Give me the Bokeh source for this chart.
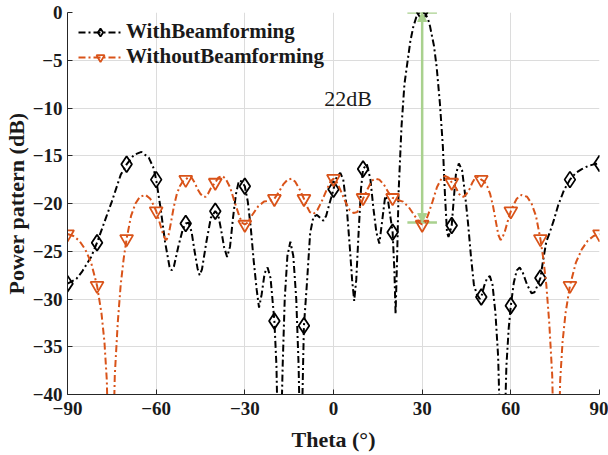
from bokeh.plotting import figure
from bokeh.models import Range1d, FixedTicker, Arrow, NormalHead, Label
from bokeh.embed import file_html
from bokeh.resources import INLINE

# ---------------- data ----------------
x_ticks = [-90, -60, -30, 0, 30, 60, 90]
y_ticks = [-40, -35, -30, -25, -20, -15, -10, -5, 0]

marker_theta = [-90, -80, -70, -60, -50, -40, -30, -20, -10, 0,
                10, 20, 30, 40, 50, 60, 70, 80, 90]
marker_with = [-28.4, -24.1, -15.9, -17.5, -22.1, -20.8, -18.2, -32.3, -32.8, -18.5,
               -16.4, -23.0, 0.0, -22.3, -29.8, -30.7, -27.8, -17.5, -15.8]
marker_without = [-23.2, -28.6, -23.7, -20.8, -17.5, -17.8, -22.2, -19.5, -19.5, -17.4,
                  -19.4, -19.4, -22.2, -17.8, -17.5, -20.8, -23.7, -28.6, -23.2]

with_theta = [-90, -87, -85, -82, -80, -77, -75, -72, -70, -67.5, -65, -62.5, -61, -60,
              -58.5, -57, -55.5, -54.8, -54, -52.5, -51, -50, -49, -48, -47, -46, -45.3,
              -44.5, -43, -41.5, -40, -39, -38, -37, -36, -35, -34, -33, -32, -31, -30,
              -29, -28, -27, -26, -25.2, -24.3, -23.3, -22.3, -21.3, -20, -19.3, -18.8,
              -17.8, -17.2, -16.5, -15.6, -14.6, -13.6, -12.6, -11.8, -11.3, -10.8, -10.3,
              -10, -9, -7.9, -6.8, -5.6, -4.5, -3.4, -2.5, -1.7, -0.8, 0, 1, 2.3, 3.3,
              4.5, 5.5, 6.3, 7, 7.7, 8.5, 9.3, 10, 11.3, 12.5, 13.5, 14.5, 15.5, 16.4,
              17.5, 18.5, 19.3, 20, 20.6, 21, 21.5, 22, 23, 24, 24.8, 26, 27, 28, 29, 30,
              31, 32, 32.7, 34, 34.9, 36, 37, 37.7, 38.4, 38.9, 39.4, 40, 40.7, 41.4,
              42.4, 43.5, 44.5, 45.5, 46.5, 47.5, 48.5, 49.5, 50, 51, 52, 52.9, 53.8,
              54.8, 55.7, 56.5, 57.8, 58.5, 59.3, 60, 61, 62, 63, 64, 65.5, 67, 68, 69,
              70, 71, 72, 73.2, 74.5, 76, 78, 80, 82, 84, 86, 88, 90]
with_db = [-28.4, -27.9, -27.1, -25.6, -24.1, -21.5, -19.8, -17.0, -15.9, -14.9, -14.6,
           -15.2, -16.2, -17.5, -20.5, -24.0, -26.6, -27.0, -26.6, -24.5, -22.7, -22.1,
           -22.0, -23.0, -25.0, -26.8, -27.5, -26.9, -24.0, -21.5, -20.8, -21.2, -22.8,
           -24.6, -25.6, -24.5, -21.5, -19.0, -17.6, -17.7, -18.2, -19.8, -22.5, -26.0,
           -29.0, -30.9, -29.5, -27.3, -26.7, -27.8, -32.3, -37.0, -45.0, -45.0, -37.0,
           -30.0, -25.5, -24.0, -25.5, -30.0, -37.0, -45.0, -45.0, -37.0, -32.8, -28.4,
           -23.1, -21.4, -21.2, -21.5, -21.8, -21.3, -20.4, -19.4, -18.5, -17.3, -16.8,
           -17.5, -20.5, -24.5, -28.0, -30.2, -28.0, -23.0, -18.5, -16.4, -15.9, -17.5,
           -20.5, -23.0, -24.2, -22.0, -19.2, -19.8, -21.5, -23.0, -27.0, -31.6, -26.0,
           -19.0, -12.0, -7.5, -5.7, -3.0, -1.5, -0.5, -0.05, 0.0, -0.1, -0.7, -1.5,
           -3.5, -5.7, -9.5, -14.0, -19.0, -23.0, -23.5, -23.0, -22.3, -19.5, -17.0,
           -15.8, -16.5, -19.0, -22.0, -25.5, -28.5, -29.5, -30.0, -29.8, -28.6, -27.8,
           -27.6, -28.5, -31.5, -36.0, -45.0, -45.0, -37.0, -33.0, -30.7, -28.3, -27.0,
           -26.7, -27.2, -28.5, -29.4, -29.3, -28.6, -27.8, -25.8, -24.0, -23.0, -21.8,
           -20.2, -18.6, -17.5, -16.8, -16.4, -16.1, -15.9, -15.8]

without_theta = [-90, -88, -86, -84, -82, -80, -78.5, -77.5, -76.7, -76.2, -74.5, -74, -73,
                 -72, -71, -70, -68.5, -67, -65.5, -63.6, -62, -61, -60, -59, -58, -57,
                 -56.5, -55.8, -55, -54, -53, -52, -51, -50, -49, -48, -47, -46, -45, -44,
                 -43.3, -42.5, -41.5, -40, -39, -37.7, -36.5, -35, -33.5, -32, -31, -30,
                 -29, -27.5, -25.5, -23.5, -21.5, -20, -18.5, -17, -15.5, -14.2, -13,
                 -11.5, -10, -9, -8, -6.8, -5.5, -4, -2.5, -1, 0,
                 1, 2.5, 4, 5.5, 6.8, 8, 9, 10, 11.5, 13, 14.2, 15.5, 17, 18.5, 20, 21.5,
                 23.5, 25.5, 27.5, 29, 30, 31, 32, 33.5, 35, 36.5, 37.7, 39, 40, 41.5, 42.5,
                 43.3, 44, 45, 46, 47, 48, 49, 50, 51, 52, 53, 54, 55, 55.8, 56.5, 57, 58,
                 59, 60, 61, 62, 63.6, 65.5, 67, 68.5, 70, 71, 72, 73, 74, 74.5, 76.2,
                 76.7, 77.5, 78.5, 80, 82, 84, 86, 88, 90]
without_db = [-23.2, -23.4, -23.9, -24.8, -26.2, -28.6, -31.5, -34.5, -38.5, -45.0, -45.0,
              -38.0, -32.5, -28.5, -25.8, -23.7, -21.3, -20.0, -19.3, -19.1, -19.5, -20.1,
              -20.8, -21.8, -22.9, -23.7, -23.8, -23.3, -22.0, -20.3, -19.0, -18.2, -17.7,
              -17.5, -17.2, -17.3, -17.8, -18.5, -19.0, -19.3, -19.3, -19.0, -18.4, -17.8,
              -17.3, -17.1, -17.4, -18.3, -19.8, -21.2, -22.0, -22.2, -22.0, -21.2, -20.3,
              -19.8, -19.7, -19.5, -18.8, -18.0, -17.5, -17.4, -17.7, -18.5, -19.5, -20.3,
              -20.9, -21.1, -20.7, -19.8, -18.7, -17.7, -17.4,
              -17.7, -18.7, -19.8, -20.7, -21.0, -20.9, -20.3, -19.5, -18.5, -17.6, -17.4,
              -17.5, -18.0, -18.8, -19.4, -19.6, -19.8, -20.4, -21.3, -22.0, -22.2, -22.0,
              -21.2, -19.8, -18.3, -17.4, -17.1, -17.3, -17.8, -18.4, -19.0, -19.3, -19.3,
              -19.0, -18.5, -17.8, -17.3, -17.2, -17.5, -17.7, -18.2, -19.0, -20.3, -22.0,
              -23.3, -23.8, -23.7, -22.9, -21.8, -20.8, -20.1, -19.5, -19.1, -19.3, -20.0,
              -21.3, -23.7, -25.8, -28.5, -32.5, -38.0, -45.0, -45.0, -38.5, -34.5, -31.5,
              -28.6, -26.2, -24.8, -23.9, -23.4, -23.2]

# annotation values
peak_theta = 30
peak_db = 0
sidelobe_db = -22
annot_text = "22dB"

# ---------------- styles ----------------
BLACK = "#000000"
ORANGE = "#D95319"
GREEN = "#A9D18E"
AXIS = "#262626"
SERIF = "Liberation Serif"

p = figure(width=608, height=455, output_backend="svg", toolbar_location=None,
           x_range=Range1d(-90, 90), y_range=Range1d(-40, 0),
           min_border_left=67, min_border_right=9, min_border_top=12,
           min_border_bottom=61)
p.outline_line_color = None
p.background_fill_color = "white"
p.border_fill_color = "white"

# grid
p.xgrid.grid_line_color = "#dcdcdc"
p.ygrid.grid_line_color = "#dcdcdc"
p.xgrid.grid_line_width = 1
p.ygrid.grid_line_width = 1

# axes
p.xaxis.ticker = FixedTicker(ticks=x_ticks)
p.yaxis.ticker = FixedTicker(ticks=y_ticks)
for ax in (p.xaxis[0], p.yaxis[0]):
    ax.axis_line_color = AXIS
    ax.axis_line_width = 1
    ax.major_tick_in = 5
    ax.major_tick_out = 0
    ax.major_tick_line_color = AXIS
    ax.minor_tick_line_color = None
    ax.major_label_text_font = SERIF
    ax.major_label_text_font_style = "bold"
    ax.major_label_text_font_size = "19px"
    ax.major_label_text_color = "#1a1a1a"
    ax.axis_label_text_font = SERIF
    ax.axis_label_text_font_style = "bold"
    ax.axis_label_text_font_size = "22px"
    ax.axis_label_text_color = "#1a1a1a"
p.xaxis.axis_label = "Theta (°)"
p.yaxis.axis_label = "Power pattern (dB)"
p.xaxis.major_label_standoff = 7
p.yaxis.major_label_standoff = 5
p.xaxis.axis_label_standoff = 9
p.yaxis.axis_label_standoff = 1

# annotation (drawn beneath the curves)
cap_half = 5
p.segment(x0=[peak_theta - cap_half, peak_theta - cap_half], y0=[peak_db, sidelobe_db],
          x1=[peak_theta + cap_half, peak_theta + cap_half], y1=[peak_db, sidelobe_db],
          line_color=GREEN, line_width=2.5)
p.add_layout(Arrow(x_start=peak_theta, y_start=sidelobe_db, x_end=peak_theta, y_end=peak_db,
                   line_color=GREEN, line_width=2.5,
                   start=NormalHead(size=9, fill_color=GREEN, line_color=GREEN),
                   end=NormalHead(size=9, fill_color=GREEN, line_color=GREEN)))
p.add_layout(Label(x=-3.1, y=-9.0, text=annot_text, text_font=SERIF,
                   text_font_size="22px", text_color="#1a1a1a",
                   text_baseline="alphabetic", text_align="left"))

# series
lbl1 = "WithBeamforming"
lbl2 = "WithoutBeamforming"
p.line(with_theta, with_db, line_color=BLACK, line_width=2, line_dash="7 3 2 3",
       legend_label=lbl1)
p.scatter(marker_theta, marker_with, marker="diamond", size=16, fill_color=None,
          line_color=BLACK, line_width=1.8, legend_label=lbl1)
p.line(without_theta, without_db, line_color=ORANGE, line_width=2, line_dash="7 3 2 3",
       legend_label=lbl2)
p.scatter(marker_theta, marker_without, marker="inverted_triangle", size=13,
          fill_color=None, line_color=ORANGE, line_width=1.8, legend_label=lbl2)

leg = p.legend[0]
leg.location = (11, 325)
leg.margin = 0
leg.padding = 0
leg.spacing = 0
leg.border_line_color = None
leg.background_fill_alpha = 0
leg.label_text_font = SERIF
leg.label_text_font_style = "bold"
leg.label_text_font_size = "21px"
leg.label_text_color = "#1a1a1a"
leg.label_height = 20
leg.glyph_height = 20
leg.glyph_width = 44
leg.label_standoff = 4

open("out.html", "w").write(file_html(p, INLINE))
